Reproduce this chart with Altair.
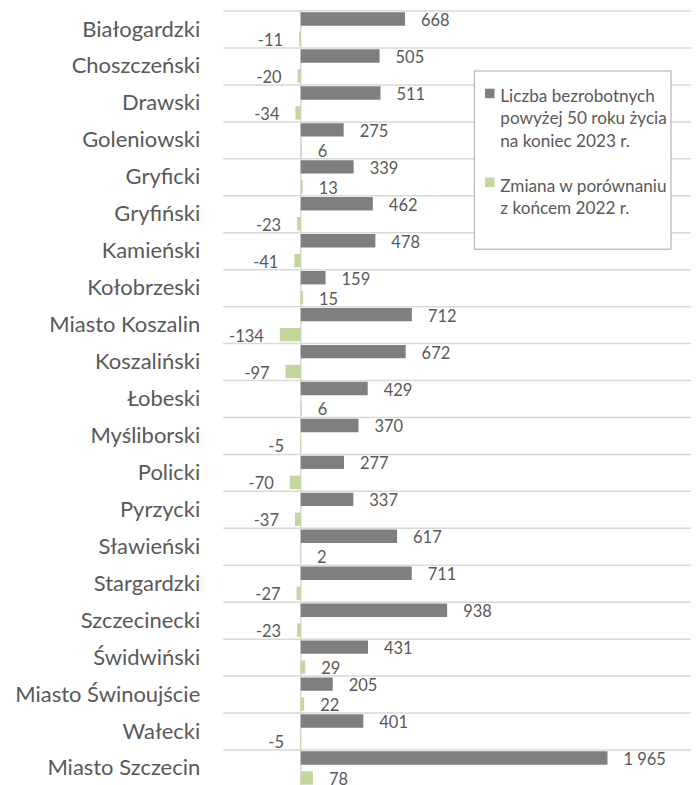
import altair as alt
import pandas as pd

categories = ["Białogardzki", "Choszczeński", "Drawski", "Goleniowski", "Gryficki",
              "Gryfiński", "Kamieński", "Kołobrzeski", "Miasto Koszalin", "Koszaliński",
              "Łobeski", "Myśliborski", "Policki", "Pyrzycki", "Sławieński",
              "Stargardzki", "Szczecinecki", "Świdwiński", "Miasto Świnoujście", "Wałecki",
              "Miasto Szczecin"]
unemployed_2023 = [668, 505, 511, 275, 339, 462, 478, 159, 712, 672,
                   429, 370, 277, 337, 617, 711, 938, 431, 205, 401, 1965]
change_vs_2022 = [-11, -20, -34, 6, 13, -23, -41, 15, -134, -97,
                  6, -5, -70, -37, 2, -27, -23, 29, 22, -5, 78]
series_names = ["Liczba bezrobotnych powyżej 50 roku życia na koniec 2023 r.",
                "Zmiana w porównaniu z końcem 2022 r."]
legend_lines_1 = ["Liczba bezrobotnych", "powyżej 50 roku życia", "na koniec 2023 r."]
legend_lines_2 = ["Zmiana w porównaniu", "z końcem 2022 r."]

GRAY = "#7f7f7f"
GREEN = "#c3d69b"
TXT = "#595959"
FONT = "Lato"


def fmt(v):
    return f"{v:,}".replace(",", " ")


rows = []
for c, a, b in zip(categories, unemployed_2023, change_vs_2022):
    rows.append({"category": c, "series": series_names[0], "value": a, "label": fmt(a)})
    rows.append({"category": c, "series": series_names[1], "value": b, "label": fmt(b)})
df = pd.DataFrame(rows)

y_enc = alt.Y("category:N", sort=categories, title=None,
              scale=alt.Scale(paddingInner=0, paddingOuter=0),
              axis=alt.Axis(domain=False, ticks=False, labelPadding=23,
                            labelFontSize=22, labelFont=FONT, labelColor=TXT,
                            labelLimit=400,
                            grid=True, gridColor="#d9d9d9", gridWidth=1.5,
                            tickBand="extent"))
yoff_enc = alt.YOffset("series:N", sort=series_names,
                       scale=alt.Scale(paddingInner=0.33, paddingOuter=0.09))
x_enc = alt.X("value:Q", axis=None,
              scale=alt.Scale(domain=[-500, 2500], nice=False))

base = alt.Chart(df)

zero_rule = alt.Chart(pd.DataFrame({"z": [0]})).mark_rule(
    color="#d9d9d9", strokeWidth=1.5).encode(x=alt.X("z:Q", scale=alt.Scale(domain=[-500, 2500], nice=False), axis=None))

bars = base.mark_bar().encode(
    y=y_enc, yOffset=yoff_enc, x=x_enc,
    color=alt.Color("series:N", legend=None,
                    scale=alt.Scale(domain=series_names, range=[GRAY, GREEN])))

pos_labels = base.transform_filter("datum.value >= 0").mark_text(
    align="left", baseline="middle", dx=16, dy=2, fontSize=16.5, font=FONT, color=TXT
).encode(y=y_enc, yOffset=yoff_enc, x=x_enc, text="label:N")

neg_labels = base.transform_filter("datum.value < 0").mark_text(
    align="right", baseline="middle", dx=-16, dy=2, fontSize=16.5, font=FONT, color=TXT
).encode(y=y_enc, yOffset=yoff_enc, x=x_enc, text="label:N")

one = pd.DataFrame({"a": [0]})
legend_box = alt.Chart(one).mark_rect(fill="white", stroke="#a6a6a6", strokeWidth=1).encode(
    x=alt.value(252), x2=alt.value(449), y=alt.value(60.5), y2=alt.value(239))
sq1 = alt.Chart(one).mark_square(size=90, color=GRAY, opacity=1).encode(
    x=alt.value(267.5), y=alt.value(83))
sq2 = alt.Chart(one).mark_square(size=90, color=GREEN, opacity=1).encode(
    x=alt.value(267.5), y=alt.value(172))
lt1 = alt.Chart(one).mark_text(text=legend_lines_1, align="left", baseline="alphabetic",
                               lineHeight=22.3, fontSize=17.2, font=FONT, color=TXT).encode(
    x=alt.value(278), y=alt.value(91.7))
lt2 = alt.Chart(one).mark_text(text=legend_lines_2, align="left", baseline="alphabetic",
                               lineHeight=22.3, fontSize=17.2, font=FONT, color=TXT).encode(
    x=alt.value(278), y=alt.value(181.7))

chart = alt.layer(zero_rule, bars, pos_labels, neg_labels,
                  legend_box, sq1, sq2, lt1, lt2).properties(
    width=469, height=777,
    autosize=alt.AutoSizeParams(type="none"),
    padding={"left": 215, "top": 2, "right": 0, "bottom": 0},
    background="white",
).configure_view(stroke=None)

chart.save("out.html", embed_options={"renderer": "svg", "actions": False})
